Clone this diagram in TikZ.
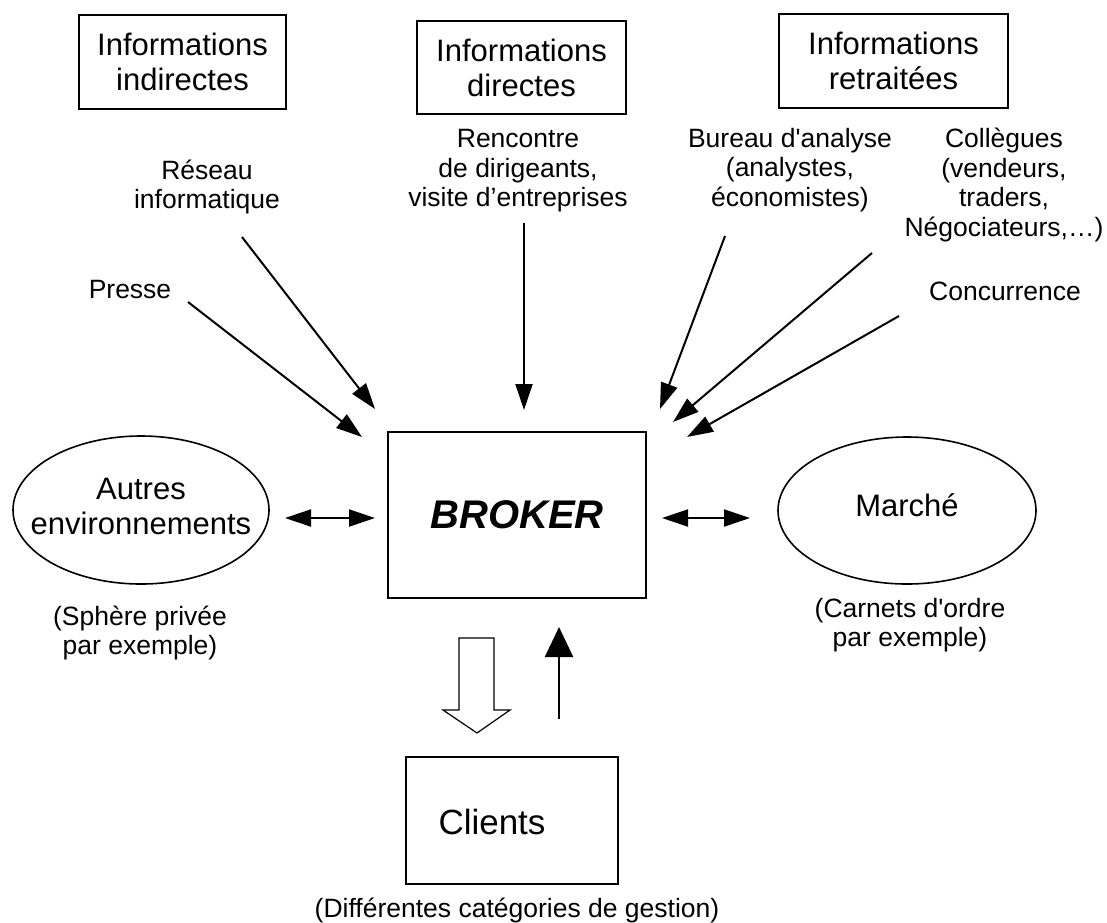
\documentclass[tikz,border=0pt]{standalone}
\usepackage{fontspec}
\setmainfont{Liberation Sans}
\usetikzlibrary{arrows.meta,shapes.geometric}
\begin{document}
\begin{tikzpicture}[x=0.5pt,y=-0.5pt,
  box/.style={draw, line width=1.2pt, inner sep=0pt},
  big/.style={font=\fontsize{15.5}{17.5}\selectfont, align=center},
  small/.style={font=\fontsize{13.25}{14.8}\selectfont, align=center},
  oval/.style={draw, ellipse, line width=0.8pt, inner sep=0pt},
  arr/.style={line width=1pt, -{Triangle[length=13pt,width=8.5pt]}},
  dbl/.style={line width=1pt, {Triangle[length=13pt,width=8.5pt]}-{Triangle[length=13pt,width=8.5pt]}},
  uparr/.style={line width=1.2pt, -{Triangle[length=15pt,width=14pt]}},
  hollow/.style={draw, line width=0.6pt, fill=white},
]
\useasboundingbox (0,0) rectangle (1107,922);

% top boxes
\node[box, minimum width=103.5pt, minimum height=47pt, big] (bind) at (182.5,62) {Informations\\indirectes};
\node[box, minimum width=104.5pt, minimum height=46.5pt, big] (bdir) at (521.5,67.5) {Informations\\directes};
\node[box, minimum width=114.5pt, minimum height=47pt, big] (bret) at (893.5,61) {Informations\\retraitées};

% sources
\node[small] (reseau) at (207,187) {Réseau\\informatique};
\node[small] (presse) at (130,290) {Presse};
\node[small] (rencontre) at (518,171) {Rencontre\\de dirigeants,\\visite d’entreprises};
\node[small] (bureau) at (790,170) {Bureau d\textquotesingle analyse\\(analystes,\\économistes)};
\node[small] (collegues) at (1004,185) {Collègues\\(vendeurs,\\traders,\\Négociateurs,…)};
\node[small] (concurrence) at (1005,291) {Concurrence};

% central
\node[box, minimum width=129pt, minimum height=83pt, font=\fontsize{20}{24}\selectfont\bfseries\itshape] (broker) at (517,515) {BROKER};

% ellipses
\node[oval, minimum width=128pt, minimum height=74pt] (autres) at (141,510) {};
\node[big] (autresT) at (141,506) {Autres\\environnements};
\node[oval, minimum width=129pt, minimum height=73.5pt] (marche) at (907,510.5) {};
\node[big] (marcheT) at (907,505) {Marché};
\node[small] (sphere) at (140,633) {(Sphère privée\\par exemple)};
\node[small] (carnets) at (910,625) {(Carnets d\textquotesingle ordre\\par exemple)};

% clients
\node[box, minimum width=106pt, minimum height=63.5pt] (clients) at (512,820.5) {};
\node[font=\fontsize{17.5}{21}\selectfont] (clientsT) at (492,822) {Clients};
\node[small] (gestion) at (517,910) {(Différentes catégories de gestion)};

% arrow end points
\coordinate (reseauS) at (242,237);
\coordinate (reseauE) at (375,409);
\coordinate (presseS) at (188,302);
\coordinate (presseE) at (362,437);
\coordinate (rencS) at (524,223);
\coordinate (rencE) at (524,410);
\coordinate (burS) at (725,236);
\coordinate (burE) at (660,409);
\coordinate (colS) at (872,253);
\coordinate (colE) at (673,422);
\coordinate (concS) at (899,316);
\coordinate (concE) at (687,437);
\coordinate (autresR) at (285,518);
\coordinate (brokerL) at (375,518);
\coordinate (brokerR) at (662,518);
\coordinate (marcheL) at (750,518);
\coordinate (upS) at (559,719);
\coordinate (upE) at (559,627);

\draw[arr] (reseauS) -- (reseauE);
\draw[arr] (presseS) -- (presseE);
\draw[arr] (rencS) -- (rencE);
\draw[arr] (burS) -- (burE);
\draw[arr] (colS) -- (colE);
\draw[arr] (concS) -- (concE);
\draw[dbl] (autresR) -- (brokerL);
\draw[dbl] (brokerR) -- (marcheL);
\draw[uparr] (upS) -- (upE);

% hollow arrow broker -> clients
\draw[hollow] (459,638) -- (494,638) -- (494,710) -- (510,710) -- (477,733) -- (443,710) -- (459,710) -- cycle;
\end{tikzpicture}
\end{document}
